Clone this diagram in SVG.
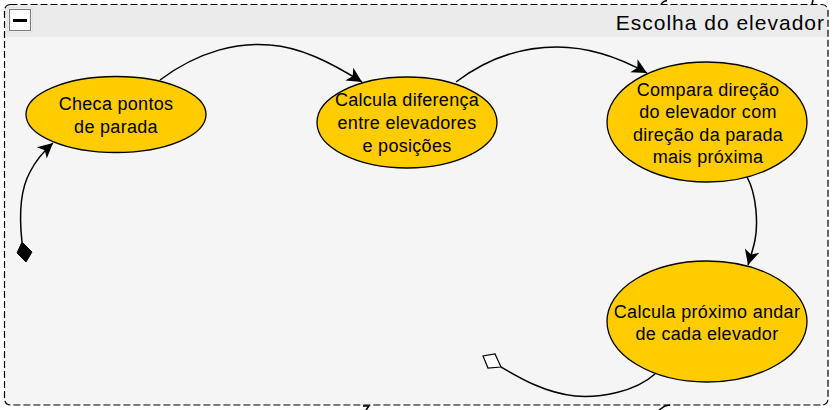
<svg xmlns="http://www.w3.org/2000/svg" width="834" height="410" viewBox="0 0 834 410">
<style>
.node ellipse{fill:#ffcc00;stroke:#000;stroke-width:1.3}
.lbl{font-family:"Liberation Sans",Arial,sans-serif;font-size:18px;letter-spacing:0.3px;fill:#000;text-anchor:middle}
.edge{fill:none;stroke:#000;stroke-width:1.5}
</style>
<defs>
<marker id="arr" viewBox="-16 -8 17 16" refX="0" refY="0" markerWidth="17" markerHeight="16" markerUnits="userSpaceOnUse" orient="auto">
<path d="M0,0 L-15,-7.5 L-11,0 L-15,7.5 Z" fill="#000"/>
</marker>
</defs>
<rect width="834" height="410" fill="#ffffff"/>
<g id="frame">
<path d="M4.5,37 L4.5,10.5 Q4.5,4.5 10.5,4.5 L821.5,4.5 Q828,4.5 828,11 L828,37 Z" fill="#ebebeb"/>
<path d="M4.5,37 L828,37 L828,399 Q828,405 822,405 L10.5,405 Q4.5,405 4.5,399 Z" fill="#f5f5f5"/>
<rect x="4.5" y="4.5" width="823.5" height="400.5" rx="6" fill="none" stroke="#000" stroke-width="1.2" stroke-dasharray="7 3"/>
<rect x="8" y="8" width="24" height="24" fill="#ffffff" stroke="#dddddd" stroke-width="1"/>
<rect x="9.5" y="9.5" width="21" height="21" fill="#ffffff" stroke="#7a7a7a" stroke-width="1"/>
<rect x="13" y="19" width="14" height="3" fill="#000"/>
<text x="825" y="30" font-family="Liberation Sans, Arial, sans-serif" font-size="21" letter-spacing="1" text-anchor="end" fill="#000">Escolha do elevador</text>
</g>
<g id="connectors">
<polygon points="22,242 32,252 26,262 17,253" fill="#000" stroke="#000" stroke-width="1"/>
<path class="edge" d="M22,242 C19,215 20,190 30,172 C36,160 44,151 53,143" marker-end="url(#arr)"/>
<path class="edge" d="M160,80 C200,50 240,42 270,45 C300,47 330,62 362,82" marker-end="url(#arr)"/>
<path class="edge" d="M456,82 C485,60 520,47 557,47 C590,47 620,58 647,73" marker-end="url(#arr)"/>
<path class="edge" d="M747,177 C757,195 758,225 755,240 C753,250 750,258 748,265" marker-end="url(#arr)"/>
<path class="edge" d="M655,374 C635,392 600,398 575,396 C545,393 520,378 501,367"/>
<polygon points="501,367 488,368 483,356 495,354" fill="#ffffff" stroke="#000" stroke-width="1.2"/>
<path class="edge" d="M661,4 L664,1.5 L667,0.5"/>
<path class="edge" d="M812,4 L813,0"/>
<path class="edge" d="M363,406 L369,406 L366,410"/>
<path class="edge" d="M659,410 L665,406 L670,405"/>
</g>
<g id="node1" class="node">
<ellipse cx="116" cy="114.5" rx="90" ry="38"/>
<text class="lbl" x="116" y="110">Checa pontos</text>
<text class="lbl" x="116" y="132.5">de parada</text>
</g>
<g id="node2" class="node">
<ellipse cx="407" cy="122.5" rx="90" ry="45.5"/>
<text class="lbl" x="407" y="105.5">Calcula diferença</text>
<text class="lbl" x="407" y="128.5">entre elevadores</text>
<text class="lbl" x="407" y="151.5">e posições</text>
</g>
<g id="node3" class="node">
<ellipse cx="707" cy="122" rx="100" ry="60"/>
<text class="lbl" x="708" y="95.5">Compara direção</text>
<text class="lbl" x="708" y="118">do elevador com</text>
<text class="lbl" x="708" y="140.5">direção da parada</text>
<text class="lbl" x="708" y="163">mais próxima</text>
</g>
<g id="node4" class="node">
<ellipse cx="707" cy="321.5" rx="100" ry="60.5"/>
<text class="lbl" x="707" y="317.5">Calcula próximo andar</text>
<text class="lbl" x="707" y="339.5">de cada elevador</text>
</g>
</svg>
